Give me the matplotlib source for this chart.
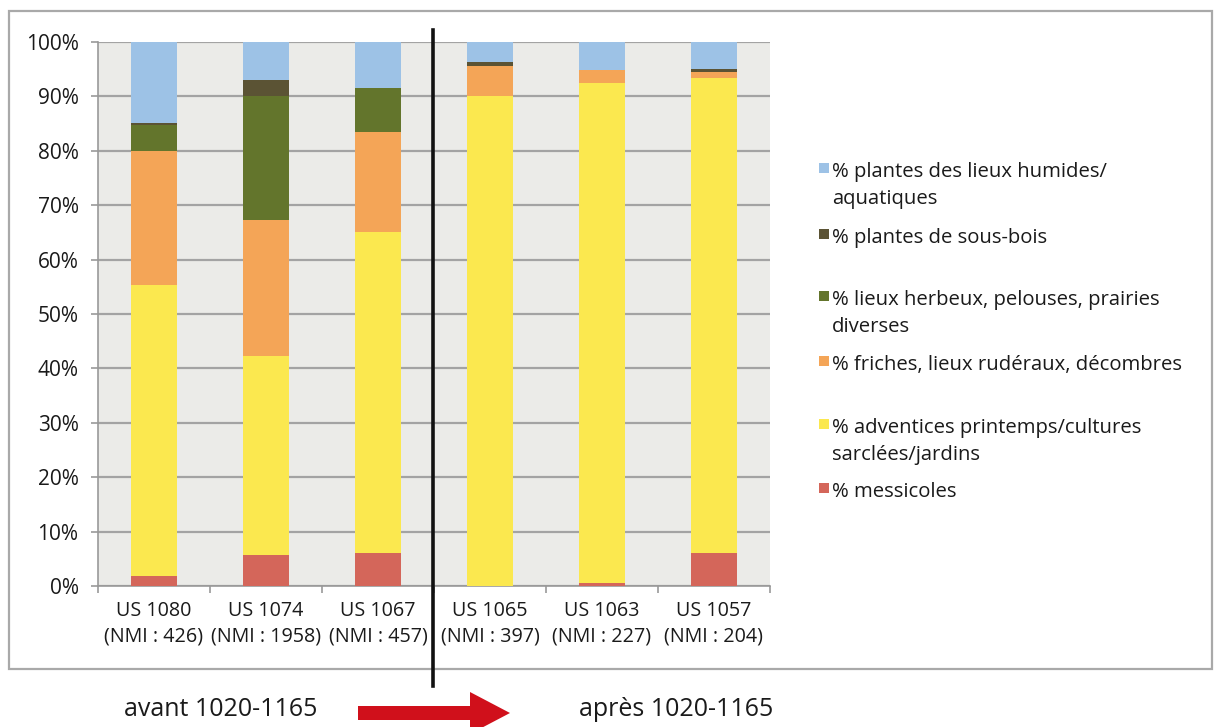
import matplotlib
matplotlib.use("Agg")
import matplotlib.pyplot as plt
from matplotlib.patches import Rectangle, FancyArrow
import numpy as np

plt.rcParams['font.family'] = ['Open Sans', 'DejaVu Sans']

# ---- data ----
categories = ["US 1080\n(NMI : 426)", "US 1074\n(NMI : 1958)", "US 1067\n(NMI : 457)",
              "US 1065\n(NMI : 397)", "US 1063\n(NMI : 227)", "US 1057\n(NMI : 204)"]
messicoles = [1.8, 5.7, 6.0, 0.0, 0.5, 6.0]
adventices = [53.5, 36.6, 59.1, 90.1, 92.0, 87.4]
friches = [24.6, 24.9, 18.4, 5.4, 2.4, 1.1]
herbeux = [4.9, 22.9, 8.1, 0.0, 0.0, 0.0]
sous_bois = [0.3, 2.9, 0.0, 0.8, 0.0, 0.5]
humides = [14.9, 7.0, 8.4, 3.7, 5.1, 5.0]

series = [
    ("% messicoles", messicoles, "#D4665A"),
    ("% adventices printemps/cultures\nsarclées/jardins", adventices, "#FBE84F"),
    ("% friches, lieux rudéraux, décombres", friches, "#F4A557"),
    ("% lieux herbeux, pelouses, prairies\ndiverses", herbeux, "#63752C"),
    ("% plantes de sous-bois", sous_bois, "#5B5334"),
    ("% plantes des lieux humides/\naquatiques", humides, "#9DC2E6"),
]
yticks = [0, 10, 20, 30, 40, 50, 60, 70, 80, 90, 100]
period_labels = ["avant 1020-1165", "après 1020-1165"]

TXT = "#1A1A1A"
W, H = 1214, 727
fig = plt.figure(figsize=(W / 100, H / 100), dpi=100)

def fx(px):
    return px / W

def fy(py):
    return 1 - py / H

# outer frame
fig.patches.append(Rectangle((fx(9), fy(669)), fx(1212) - fx(9), fy(11) - fy(669),
                             transform=fig.transFigure, fill=False,
                             edgecolor="#A9A9A9", linewidth=1.6, zorder=0))

ax = fig.add_axes([fx(98), fy(586), fx(770) - fx(98), fy(42) - fy(586)])
ax.set_facecolor("#EBEBE8")
x = np.arange(len(categories))
bottom = np.zeros(len(categories))
for name, vals, col in series:
    vals = np.array(vals)
    ax.bar(x, vals, width=0.41, bottom=bottom, color=col, zorder=3, linewidth=0)
    bottom += vals

ax.set_xlim(-0.5, len(categories) - 0.5)
ax.set_ylim(0, 100)
ax.set_yticks(yticks)
ax.set_yticklabels([f"{v}%" for v in yticks], fontsize=15, color=TXT)
ax.yaxis.grid(True, color="#A3A3A3", linewidth=1.6, zorder=1)
ax.set_axisbelow(True)
ax.tick_params(axis='y', length=5, width=1.2, color="#999999", pad=9)
ax.set_xticks(x)
ax.set_xticklabels(categories, fontsize=14.2, color=TXT, linespacing=1.35)
ax.set_xticks(np.arange(-0.5, len(categories), 1), minor=True)
ax.tick_params(axis='x', which='major', length=0, pad=11)
ax.tick_params(axis='x', which='minor', length=5, width=1.2, color="#999999")
for s in ["top", "right"]:
    ax.spines[s].set_visible(False)
ax.spines["left"].set_color("#999999")
ax.spines["bottom"].set_color("#999999")
ax.spines["left"].set_linewidth(1.2)
ax.spines["bottom"].set_linewidth(1.2)

# divider line between periods
fig.lines.append(plt.Line2D([fx(433), fx(433)], [fy(30), fy(686)], transform=fig.transFigure,
                            color="#111111", linewidth=2.6, zorder=10))

# legend (manual)
legend_rows = [
    (5, 172),
    (4, 238),
    (3, 300),
    (2, 365),
    (1, 428),
    (0, 492),
]
for idx, ypx in legend_rows:
    name, vals, col = series[idx]
    fig.patches.append(Rectangle((fx(819), fy(ypx + 1)), fx(10), fy(0) - fy(10),
                                 transform=fig.transFigure, facecolor=col, edgecolor='none'))
    for j, line in enumerate(name.split("\n")):
        fig.text(fx(832), fy(ypx + j * 27), line, fontsize=14.6, color=TXT,
                 va="center", ha="left")

# period labels and arrow
fig.text(fx(221), fy(709), period_labels[0], fontsize=18, color=TXT, ha="center", va="center")
fig.text(fx(676), fy(709), period_labels[1], fontsize=18, color=TXT, ha="center", va="center")
fig.patches.append(FancyArrow(fx(358), fy(713), fx(510) - fx(358), 0,
                              width=14 / H, head_width=42 / H, head_length=fx(40),
                              length_includes_head=True, transform=fig.transFigure,
                              color="#D0101B", linewidth=0))

fig.savefig("out.png", dpi=100)
